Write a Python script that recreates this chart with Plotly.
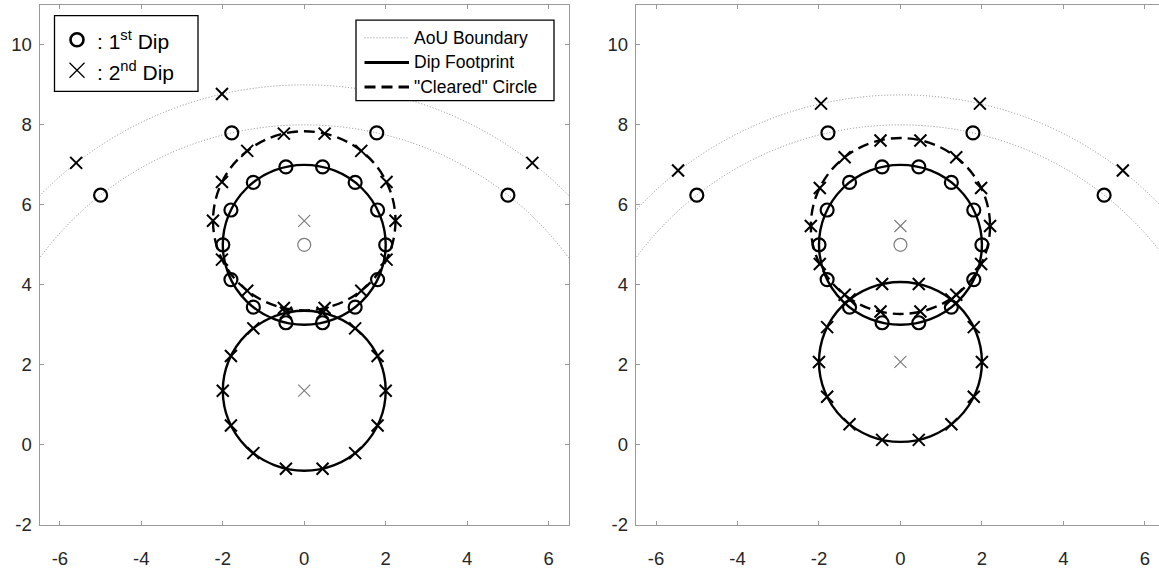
import plotly.graph_objects as go
from plotly.subplots import make_subplots

W, H = 1159, 572

# ---------------- data ----------------
# circle geometry: centres and radii
fp1_center = (0.0, 5.0)          # 1st dip footprint (both panels)
fp_radius = 2.0
aou_r_inner = 8.0                # AoU boundary for 1st dip
# left panel
fp2_center_L = (0.0, 1.35)
clr_center_L = (0.0, 5.60)
clr_radius_L = 2.24
aou_r_outer_L = 9.0
# right panel
fp2_center_R = (0.0, 2.07)
clr_center_R = (0.0, 5.47)
clr_radius_R = 2.20
aou_r_outer_R = 8.75

# 1st dip sample points (same in both panels)
dip1_fp_x = [2.0, 1.8, 1.25, 0.45, -0.45, -1.25, -1.8, -2.0, -1.8, -1.25, -0.45, 0.45, 1.25, 1.8]
dip1_fp_y = [5.0, 5.87, 6.56, 6.95, 6.95, 6.56, 5.87, 5.0, 4.13, 3.44, 3.05, 3.05, 3.44, 4.13]
dip1_aou_x = [1.78, -1.78, 5.0, -5.0]
dip1_aou_y = [7.80, 7.80, 6.24, 6.24]

# 2nd dip sample points, left panel
dip2L_fp_x = [2.0, 1.8, 1.25, 0.45, -0.45, -1.25, -1.8, -2.0, -1.8, -1.25, -0.45, 0.45, 1.25, 1.8]
dip2L_fp_y = [1.35, 2.22, 2.91, 3.30, 3.30, 2.91, 2.22, 1.35, 0.48, -0.21, -0.60, -0.60, -0.21, 0.48]
dip2L_clr_x = [2.24, 2.02, 1.40, 0.50, -0.50, -1.40, -2.02, -2.24, -2.02, -1.40, -0.50, 0.50, 1.40, 2.02]
dip2L_clr_y = [5.60, 6.57, 7.35, 7.78, 7.78, 7.35, 6.57, 5.60, 4.63, 3.85, 3.42, 3.42, 3.85, 4.63]
dip2L_aou_x = [2.02, -2.02, 5.60, -5.60]
dip2L_aou_y = [8.77, 8.77, 7.05, 7.05]

# 2nd dip sample points, right panel
dip2R_fp_x = [2.0, 1.8, 1.25, 0.45, -0.45, -1.25, -1.8, -2.0, -1.8, -1.25, -0.45, 0.45, 1.25, 1.8]
dip2R_fp_y = [2.07, 2.94, 3.63, 4.02, 4.02, 3.63, 2.94, 2.07, 1.20, 0.51, 0.12, 0.12, 0.51, 1.20]
dip2R_clr_x = [2.20, 1.98, 1.37, 0.49, -0.49, -1.37, -1.98, -2.20, -1.98, -1.37, -0.49, 0.49, 1.37, 1.98]
dip2R_clr_y = [5.47, 6.42, 7.19, 7.61, 7.61, 7.19, 6.42, 5.47, 4.52, 3.75, 3.33, 3.33, 3.75, 4.52]
dip2R_aou_x = [1.95, -1.95, 5.46, -5.46]
dip2R_aou_y = [8.53, 8.53, 6.86, 6.86]

x_ticks = [-6, -4, -2, 0, 2, 4, 6]
x_ticklabels = ["-6", "-4", "-2", "0", "2", "4", "6"]
y_ticks = [-2, 0, 2, 4, 6, 8, 10]
y_ticklabels = ["-2", "0", "2", "4", "6", "8", "10"]

legend1_labels = [": 1<sup>st</sup> Dip", ": 2<sup>nd</sup> Dip"]
legend2_labels = ["AoU Boundary", "Dip Footprint", "\"Cleared\" Circle"]

# ---------------- styles ----------------
AX_COL = "#9a9a9a"
TXT_COL = "#262626"
FONT = "Liberation Sans, Arial, Helvetica, sans-serif"
DASH = "11px,6px"
DOT = "1px,2px"

fig = make_subplots(rows=1, cols=2)


def px2x(p):
    return p / W


def px2y(p):
    return 1 - p / H


def add_panel(col, fp2c, clrc, clrr, aou_outer, d2fx, d2fy, d2cx, d2cy, d2ax, d2ay):
    xr = "x" if col == 1 else "x2"
    yr = "y" if col == 1 else "y2"
    # AoU boundary arcs
    for r in (aou_r_inner, aou_outer):
        fig.add_shape(type="circle", xref=xr, yref=yr, x0=-r, x1=r, y0=-r, y1=r,
                      line=dict(color="#8a8a8a", width=1, dash=DOT), layer="below")
    # footprints
    for c in (fp1_center, fp2c):
        fig.add_shape(type="circle", xref=xr, yref=yr,
                      x0=c[0] - fp_radius, x1=c[0] + fp_radius,
                      y0=c[1] - fp_radius, y1=c[1] + fp_radius,
                      line=dict(color="black", width=2.4), layer="below")
    # cleared circle
    fig.add_shape(type="circle", xref=xr, yref=yr,
                  x0=clrc[0] - clrr, x1=clrc[0] + clrr, y0=clrc[1] - clrr, y1=clrc[1] + clrr,
                  line=dict(color="black", width=2.4, dash=DASH), layer="below")

    omark = dict(symbol="circle-open", size=13, color="black", line=dict(width=2.2, color="black"))
    xmark = dict(symbol="x-thin-open", size=12, color="black", line=dict(width=2, color="black"))
    # 1st dip
    fig.add_trace(go.Scatter(x=dip1_fp_x + dip1_aou_x, y=dip1_fp_y + dip1_aou_y, mode="markers",
                             marker=omark, showlegend=False, hoverinfo="skip"), row=1, col=col)
    # 2nd dip
    fig.add_trace(go.Scatter(x=d2fx + d2cx + d2ax, y=d2fy + d2cy + d2ay, mode="markers",
                             marker=xmark, showlegend=False, hoverinfo="skip"), row=1, col=col)
    # centres (grey)
    fig.add_trace(go.Scatter(x=[fp1_center[0]], y=[fp1_center[1]], mode="markers",
                             marker=dict(symbol="circle-open", size=13, color="#7a7a7a",
                                         line=dict(width=1.2, color="#7a7a7a")),
                             showlegend=False, hoverinfo="skip"), row=1, col=col)
    fig.add_trace(go.Scatter(x=[clrc[0], fp2c[0]], y=[clrc[1], fp2c[1]], mode="markers",
                             marker=dict(symbol="x-thin-open", size=12, color="#7a7a7a",
                                         line=dict(width=1.1, color="#7a7a7a")),
                             showlegend=False, hoverinfo="skip"), row=1, col=col)


add_panel(1, fp2_center_L, clr_center_L, clr_radius_L, aou_r_outer_L,
          dip2L_fp_x, dip2L_fp_y, dip2L_clr_x, dip2L_clr_y, dip2L_aou_x, dip2L_aou_y)
add_panel(2, fp2_center_R, clr_center_R, clr_radius_R, aou_r_outer_R,
          dip2R_fp_x, dip2R_fp_y, dip2R_clr_x, dip2R_clr_y, dip2R_aou_x, dip2R_aou_y)

axis_common = dict(showgrid=False, zeroline=False, showline=True, linecolor=AX_COL, linewidth=1,
                   ticks="inside", ticklen=4, tickcolor=AX_COL, tickwidth=1,
                   tickfont=dict(size=18.5, color=TXT_COL, family=FONT), fixedrange=True)

L0, L1 = 39.5, 569.0
R0 = 635.7
ppu = (L1 - L0) / 13.0
Ytop, Ybot = 5.0, 534.0

fig.update_xaxes(axis_common, tickvals=x_ticks, ticktext=x_ticklabels, mirror="ticks", ticklabelstandoff=17)
fig.update_yaxes(axis_common, tickvals=y_ticks, ticktext=y_ticklabels, range=[-2, 11], ticklabelstandoff=3)
fig.update_layout(
    xaxis=dict(domain=[px2x(L0), px2x(L1)], range=[-6.5, 6.5]),
    yaxis=dict(domain=[px2y(Ybot), px2y(Ytop)], mirror="ticks"),
    xaxis2=dict(domain=[px2x(R0), 1.0], range=[-6.5, -6.5 + (W - R0) / ppu]),
    yaxis2=dict(domain=[px2y(Ybot), px2y(Ytop)], mirror=False),
)

# ---------------- legends (left panel) ----------------
# legend 1 box
fig.add_shape(type="rect", xref="paper", yref="paper", x0=px2x(54.5), x1=px2x(198), y0=px2y(16), y1=px2y(93),
              line=dict(color="black", width=1.3), fillcolor="white", layer="above")
fig.add_shape(type="circle", xref="paper", yref="paper", xsizemode="pixel", ysizemode="pixel",
              xanchor=px2x(77), yanchor=px2y(40.5), x0=-6.5, x1=6.5, y0=-6.5, y1=6.5,
              line=dict(color="black", width=2.6), layer="above")
for sgn in (1, -1):
    fig.add_shape(type="line", xref="paper", yref="paper", xsizemode="pixel", ysizemode="pixel",
                  xanchor=px2x(77), yanchor=px2y(71.5), x0=-7.5, x1=7.5, y0=-7.5 * sgn, y1=7.5 * sgn,
                  line=dict(color="black", width=1.3), layer="above")
for i, lab in enumerate(legend1_labels):
    fig.add_annotation(xref="paper", yref="paper", x=px2x(95), y=px2y(41 + 31 * i), text=lab,
                       showarrow=False, xanchor="left", yanchor="middle",
                       font=dict(size=21, color="black", family=FONT))

# legend 2 box
fig.add_shape(type="rect", xref="paper", yref="paper", x0=px2x(356), x1=px2x(554), y0=px2y(20.5), y1=px2y(102.5),
              line=dict(color="black", width=1.3), fillcolor="white", layer="above")
leg2_styles = [dict(color="#8a8a8a", width=1, dash=DOT), dict(color="black", width=3),
               dict(color="black", width=3, dash=DASH)]
for i, (lab, st) in enumerate(zip(legend2_labels, leg2_styles)):
    yy = px2y(38.5 + 25 * i)
    fig.add_shape(type="line", xref="paper", yref="paper", x0=px2x(364.5), x1=px2x(409), y0=yy, y1=yy,
                  line=st, layer="above")
    fig.add_annotation(xref="paper", yref="paper", x=px2x(412), y=yy, text=lab,
                       showarrow=False, xanchor="left", yanchor="middle",
                       font=dict(size=17.5, color="black", family=FONT))

fig.update_layout(width=W, height=H, margin=dict(l=0, r=0, t=0, b=0),
                  paper_bgcolor="white", plot_bgcolor="white", showlegend=False,
                  font=dict(family=FONT, color=TXT_COL))

fig.write_html("out.html")
